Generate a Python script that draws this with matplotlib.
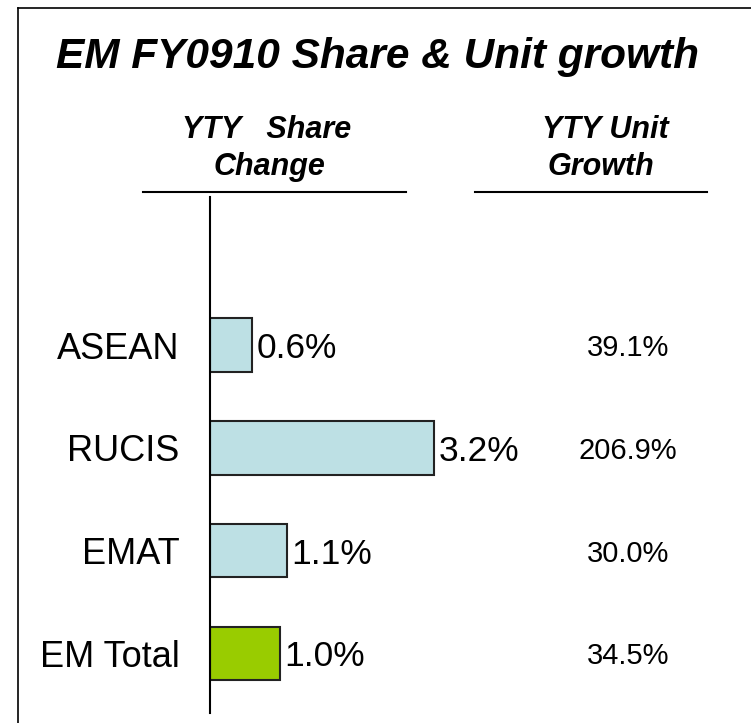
import matplotlib
matplotlib.use("Agg")
import matplotlib.pyplot as plt
from matplotlib.lines import Line2D

plt.rcParams['font.family'] = ['Liberation Sans', 'DejaVu Sans']

# Data
regions = ['ASEAN', 'RUCIS', 'EMAT', 'EM Total']
share_change = [0.6, 3.2, 1.1, 1.0]
unit_growth = ['39.1%', '206.9%', '30.0%', '34.5%']
bar_colors = ['#bde0e4', '#bde0e4', '#bde0e4', '#99cc00']

W, H = 751, 723
fig = plt.figure(figsize=(W / 100, H / 100), dpi=100)


def fx(px):
    return px / W


def fy(px):
    return 1 - px / H


# frame (left and top edges visible)
fig.add_artist(Line2D([fx(18), fx(18)], [0, fy(8)], transform=fig.transFigure, color='black', lw=1.2))
fig.add_artist(Line2D([fx(18), 1], [fy(8), fy(8)], transform=fig.transFigure, color='black', lw=1.2))

fig.text(fx(378), fy(68), 'EM FY0910 Share & Unit growth', ha='center', va='baseline',
         fontsize=30.5, fontweight='bold', fontstyle='italic')

hdr = dict(ha='center', va='baseline', fontsize=22, fontweight='bold', fontstyle='italic')
fig.text(fx(267), fy(138), 'YTY   Share', **hdr)
fig.text(fx(269), fy(175), 'Change', **hdr)
fig.text(fx(605), fy(138), 'YTY Unit', **hdr)
fig.text(fx(601), fy(175), 'Growth', **hdr)
fig.add_artist(Line2D([fx(143), fx(406)], [fy(192)] * 2, transform=fig.transFigure, color='black', lw=1.5))
fig.add_artist(Line2D([fx(475), fx(707)], [fy(192)] * 2, transform=fig.transFigure, color='black', lw=1.5))

# bar axes: left spine at x=210px, spans y 197..713 px
ax = fig.add_axes([fx(210), (H - 713) / H, (W - 210) / W, (713 - 197) / H])
y = list(range(len(regions)))
ax.barh(y, share_change, height=0.52, color=bar_colors, edgecolor='#222222', linewidth=1.5)
ax.set_xlim(0, (W - 210) / 70)
ax.set_ylim(3 + 59.5 / 102.8, -148 / 102.8)

for yi, v in zip(y, share_change):
    ax.annotate(f'{v:.1f}%', (v, yi), xytext=(3, 0), textcoords='offset points',
                va='center_baseline', ha='left', fontsize=25.5)
for yi, g in zip(y, unit_growth):
    ax.text((628 - 210) / 70, yi, g, va='center_baseline', ha='center', fontsize=21)

ax.set_yticks(y)
ax.set_yticklabels(regions, fontsize=26)
ax.tick_params(axis='y', length=0, pad=22)
ax.set_xticks([])
for s in ['top', 'right', 'bottom']:
    ax.spines[s].set_visible(False)
ax.spines['left'].set_linewidth(1.5)

fig.savefig('out.png', dpi=100)
